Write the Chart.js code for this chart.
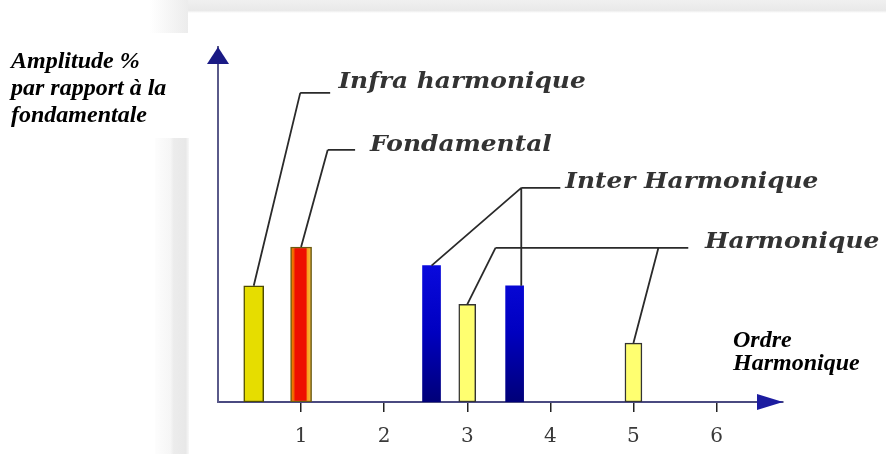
<!DOCTYPE html>
<html>
<head>
<meta charset="utf-8">
<script src="https://cdn.jsdelivr.net/npm/chart.js@4/dist/chart.umd.min.js"></script>
<style>
  html, body { margin: 0; padding: 0; background: #fff; }
  #wrap { position: relative; width: 886px; height: 454px; }
</style>
</head>
<body>
<div id="wrap"><canvas id="spectrumChart"></canvas></div>
<script>
// harmonic order (x) and amplitude in % of the fundamental (y)
const infraOrder = [0.43];
const infraAmp = [75];
const fondOrder = [1];
const fondAmp = [100];
const interOrder = [2.57, 3.57];
const interAmp = [88, 75];
const harmOrder = [3, 5];
const harmAmp = [63, 38];
const xTicks = [1, 2, 3, 4, 5, 6];

const yTitle = ["Amplitude %", "par rapport à la", "fondamentale"];
const xTitle = ["Ordre", "Harmonique"];
const labelNames = ["Infra harmonique", "Fondamental", "Inter Harmonique", "Harmonique"];

function toPoints(xs, ys) {
    return xs.map((x, i) => ({ x: x, y: ys[i] }));
}

// leader lines: elbow + end of the horizontal stroke, in data units
const callouts = [
    { name: 0, elbow: [0.99, 199.4], lineEnd: 1.35, textX: 1.45, textDy: -5, targets: [{ ds: 0, i: 0 }] },
    { name: 1, elbow: [1.32, 162.6], lineEnd: 1.65, textX: 1.83, textDy: 1, targets: [{ ds: 1, i: 0 }] },
    { name: 2, elbow: [3.65, 138.1], lineEnd: 4.12, textX: 4.18, textDy: 0, targets: [{ ds: 2, i: 0 }, { ds: 2, i: 1, straight: true }] },
    { name: 3, elbow: [3.34, 99.4], lineEnd: 5.66, textX: 5.86, textDy: 0, targets: [{ ds: 3, i: 0 }, { ds: 3, i: 1, fromX: 5.3 }] }
];

const backdrop = {
    id: "backdrop",
    beforeDraw(chart) {
        const ctx = chart.ctx;
        ctx.save();
        ctx.fillStyle = "#fff";
        ctx.fillRect(0, 0, chart.width, chart.height);
        let g = ctx.createLinearGradient(0, 0, 0, 13);
        g.addColorStop(0, "#f0f0f0");
        g.addColorStop(0.8, "#e9e9e9");
        g.addColorStop(1, "#fff");
        ctx.fillStyle = g;
        ctx.fillRect(187, 0, chart.width - 187, 13);
        g = ctx.createLinearGradient(150, 0, 188, 0);
        g.addColorStop(0, "#fff");
        g.addColorStop(1, "#ececec");
        ctx.fillStyle = g;
        ctx.fillRect(150, 0, 38, 33);
        g = ctx.createLinearGradient(155, 0, 189, 0);
        g.addColorStop(0, "#fdfdfd");
        g.addColorStop(0.45, "#f6f6f6");
        g.addColorStop(0.55, "#ececec");
        g.addColorStop(0.9, "#e8e8e8");
        g.addColorStop(1, "#f8f8f8");
        ctx.fillStyle = g;
        ctx.fillRect(155, 138, 34, chart.height - 138);
        ctx.restore();
    }
};

const decorations = {
    id: "decorations",
    afterDraw(chart) {
        const ctx = chart.ctx;
        const xs = chart.scales.x, ys = chart.scales.y;
        const area = chart.chartArea;
        ctx.save();

        // axis arrows
        ctx.fillStyle = "#1a1a85";
        ctx.beginPath();
        ctx.moveTo(area.left, area.top);
        ctx.lineTo(area.left - 11, area.top + 17);
        ctx.lineTo(area.left + 11, area.top + 17);
        ctx.closePath();
        ctx.fill();
        ctx.fillStyle = "#1c1ca0";
        ctx.beginPath();
        ctx.moveTo(area.right, area.bottom);
        ctx.lineTo(area.right - 26, area.bottom - 8);
        ctx.lineTo(area.right - 26, area.bottom + 8);
        ctx.closePath();
        ctx.fill();

        // leader lines and labels
        ctx.strokeStyle = "#2a2a2a";
        ctx.lineWidth = 1.8;
        ctx.fillStyle = "#333";
        ctx.font = "italic bold 22px 'DejaVu Serif'";
        ctx.textBaseline = "alphabetic";
        callouts.forEach(c => {
            const ex = xs.getPixelForValue(c.elbow[0]);
            const ey = ys.getPixelForValue(c.elbow[1]);
            ctx.beginPath();
            ctx.moveTo(ex, ey);
            ctx.lineTo(xs.getPixelForValue(c.lineEnd), ey);
            c.targets.forEach(t => {
                const bar = chart.getDatasetMeta(t.ds).data[t.i];
                const sx = t.fromX !== undefined ? xs.getPixelForValue(t.fromX) : ex;
                ctx.moveTo(sx, ey);
                ctx.lineTo(t.straight ? ex : bar.x, bar.y);
            });
            ctx.stroke();
            // wide italic face: stretch the glyphs a little
            ctx.save();
            ctx.translate(xs.getPixelForValue(c.textX), ey + c.textDy);
            ctx.scale(1.13, 1);
            ctx.fillText(labelNames[c.name], 0, 0);
            ctx.restore();
        });

        // axis titles
        ctx.fillStyle = "#000";
        ctx.font = "italic bold 24px 'Liberation Serif'";
        yTitle.forEach((t, i) => ctx.fillText(t, 11, 68 + i * 27));
        xTitle.forEach((t, i) => ctx.fillText(t, 733, 347 + i * 23));
        ctx.restore();
    }
};

const ctx = document.getElementById("spectrumChart").getContext("2d");

new Chart(ctx, {
    type: "bar",
    data: {
        datasets: [{
            label: "Infra harmonique",
            data: toPoints(infraOrder, infraAmp),
            backgroundColor: "#e6dd00",
            borderColor: "#4d4a00",
            borderWidth: 1.5,
            barThickness: 20
        }, {
            label: "Fondamental",
            data: toPoints(fondOrder, fondAmp),
            backgroundColor: function (c) {
                const sx = c.chart.scales.x;
                const px = sx ? sx.getPixelForValue(fondOrder[c.dataIndex]) : NaN;
                if (!Number.isFinite(px)) return "#ee1000";
                const g = c.chart.ctx.createLinearGradient(px - 10, 0, px + 10, 0);
                g.addColorStop(0, "#f08a00");
                g.addColorStop(0.14, "#f06000");
                g.addColorStop(0.2, "#ee1000");
                g.addColorStop(0.74, "#ee1000");
                g.addColorStop(0.82, "#f7a020");
                g.addColorStop(1, "#f7c040");
                return g;
            },
            borderColor: "#6b5a10",
            borderWidth: 1.5,
            barThickness: 21
        }, {
            label: "Inter Harmonique",
            data: toPoints(interOrder, interAmp),
            backgroundColor: function (c) {
                const area = c.chart.chartArea;
                if (!area || !Number.isFinite(area.bottom)) return "#0000c0";
                const g = c.chart.ctx.createLinearGradient(0, area.bottom - 140, 0, area.bottom);
                g.addColorStop(0, "#0a0ade");
                g.addColorStop(0.5, "#0000c0");
                g.addColorStop(1, "#000078");
                return g;
            },
            borderWidth: 0,
            barThickness: 18
        }, {
            label: "Harmonique",
            data: toPoints(harmOrder, harmAmp),
            backgroundColor: "#ffff70",
            borderColor: "#333",
            borderWidth: 1.5,
            barThickness: 17
        }].map(d => Object.assign(d, { grouped: false, borderSkipped: false }))
    },
    options: {
        responsive: true,
        maintainAspectRatio: false,
        animation: false,
        layout: { padding: { left: 210, right: 103, top: 47, bottom: -8 } },
        plugins: {
            legend: { display: false },
            tooltip: { enabled: false }
        },
        scales: {
            x: {
                type: "linear",
                min: 0,
                max: 6.8,
                offset: false,
                afterBuildTicks: s => { s.ticks = xTicks.map(v => ({ value: v })); },
                grid: {
                    offset: false,
                    drawOnChartArea: false,
                    drawTicks: true,
                    tickLength: 10,
                    color: "#222",
                    lineWidth: 1.5
                },
                border: { display: true, color: "#4a4a80", width: 2 },
                ticks: {
                    padding: 13,
                    color: "#3a3a3a",
                    font: { family: "'DejaVu Serif'", size: 20 },
                    maxRotation: 0
                }
            },
            y: {
                min: 0,
                max: 229,
                grid: { display: false },
                border: { display: true, color: "#5a5a8a", width: 2 },
                ticks: { display: false }
            }
        }
    },
    plugins: [backdrop, decorations]
});
</script>
</body>
</html>
